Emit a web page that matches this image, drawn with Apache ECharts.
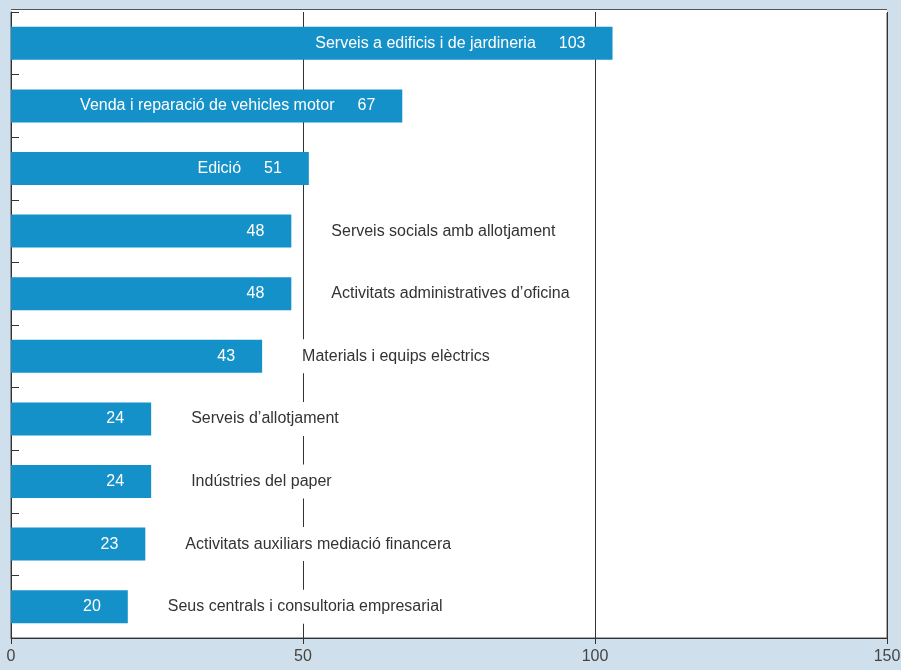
<!doctype html>
<html lang="ca">
<head>
    <meta charset="UTF-8">
    <title>Activitats</title>
    <script src="https://cdn.jsdelivr.net/npm/echarts@6/dist/echarts.min.js"></script>
    <style>
        html, body { margin: 0; padding: 0; background: #cfe0ec; }
        #chart { width: 901px; height: 670px; }
    </style>
</head>
<body>
<div id="chart"></div>
<script>
    // dades
    var categories = [
        'Serveis a edificis i de jardineria',
        'Venda i reparació de vehicles motor',
        'Edició',
        'Serveis socials amb allotjament',
        'Activitats administratives d\u2019oficina',
        'Materials i equips elèctrics',
        'Serveis d\u2019allotjament',
        'Indústries del paper',
        'Activitats auxiliars mediació financera',
        'Seus centrals i consultoria empresarial'
    ];
    var values = [103, 67, 51, 48, 48, 43, 24, 24, 23, 20];
    var xTicks = [0, 50, 100, 150];

    var font = '"Liberation Sans", Arial, sans-serif';
    var insideLimit = 50; // barres prou llargues per portar el nom a dins

    var chart = echarts.init(document.getElementById('chart'));
    var option = {
        backgroundColor: '#cfe0ec',
        animation: false,
        // vora superior del requadre, una mica per sobre de la primera categoria
        graphic: [{
            type: 'rect',
            left: 11, top: 9,
            shape: { width: 876, height: 4 },
            style: { fill: '#ffffff', stroke: null },
            z: 0
        }, {
            type: 'line',
            shape: { x1: 11, y1: 9.5, x2: 887, y2: 9.5 },
            style: { stroke: '#555', lineWidth: 1 },
            z: 5
        }],
        grid: {
            left: 11, right: 14, top: 12, bottom: 32,
            outerBoundsMode: 'none',
            show: true,
            backgroundColor: '#ffffff',
            borderColor: '#555',
            borderWidth: 1
        },
        xAxis: {
            type: 'value',
            min: xTicks[0],
            max: xTicks[xTicks.length - 1],
            interval: 50,
            axisLine: { show: true, lineStyle: { color: '#333', width: 1 } },
            axisTick: { show: true, length: 6, lineStyle: { color: '#333' } },
            axisLabel: { color: '#444', fontSize: 16, fontFamily: font, margin: 11 },
            splitLine: { show: true, lineStyle: { color: '#333', width: 1 } }
        },
        yAxis: {
            type: 'category',
            inverse: true,
            data: categories,
            axisLine: { show: true, lineStyle: { color: '#333', width: 1 } },
            axisTick: { show: true, inside: true, length: 8, lineStyle: { color: '#333' } },
            axisLabel: { show: false }
        },
        series: [
            {
                type: 'bar',
                data: values,
                barWidth: 33,
                itemStyle: { color: '#1591c9' },
                z: 3,
                label: {
                    show: true,
                    position: 'insideRight',
                    distance: 27,
                    fontFamily: font,
                    formatter: function (p) {
                        if (p.value > insideLimit) {
                            return '{n|' + p.name + '}{v|' + p.value + '}';
                        }
                        return '{v|' + p.value + '}';
                    },
                    rich: {
                        n: { color: '#fff', fontSize: 16, fontFamily: font, padding: [0, 23, 0, 0] },
                        v: { color: '#fff', fontSize: 16, fontFamily: font }
                    }
                }
            },
            {
                type: 'bar',
                data: values,
                barWidth: 33,
                barGap: '-100%',
                itemStyle: { color: 'rgba(0,0,0,0)' },
                z: 4,
                label: {
                    show: true,
                    position: 'right',
                    distance: 28,
                    color: '#333',
                    fontSize: 16,
                    fontFamily: font,
                    backgroundColor: '#ffffff',
                    padding: [9, 12],
                    formatter: function (p) {
                        return p.value > insideLimit ? '' : p.name;
                    }
                }
            }
        ]
    };
    chart.setOption(option);
</script>
</body>
</html>
